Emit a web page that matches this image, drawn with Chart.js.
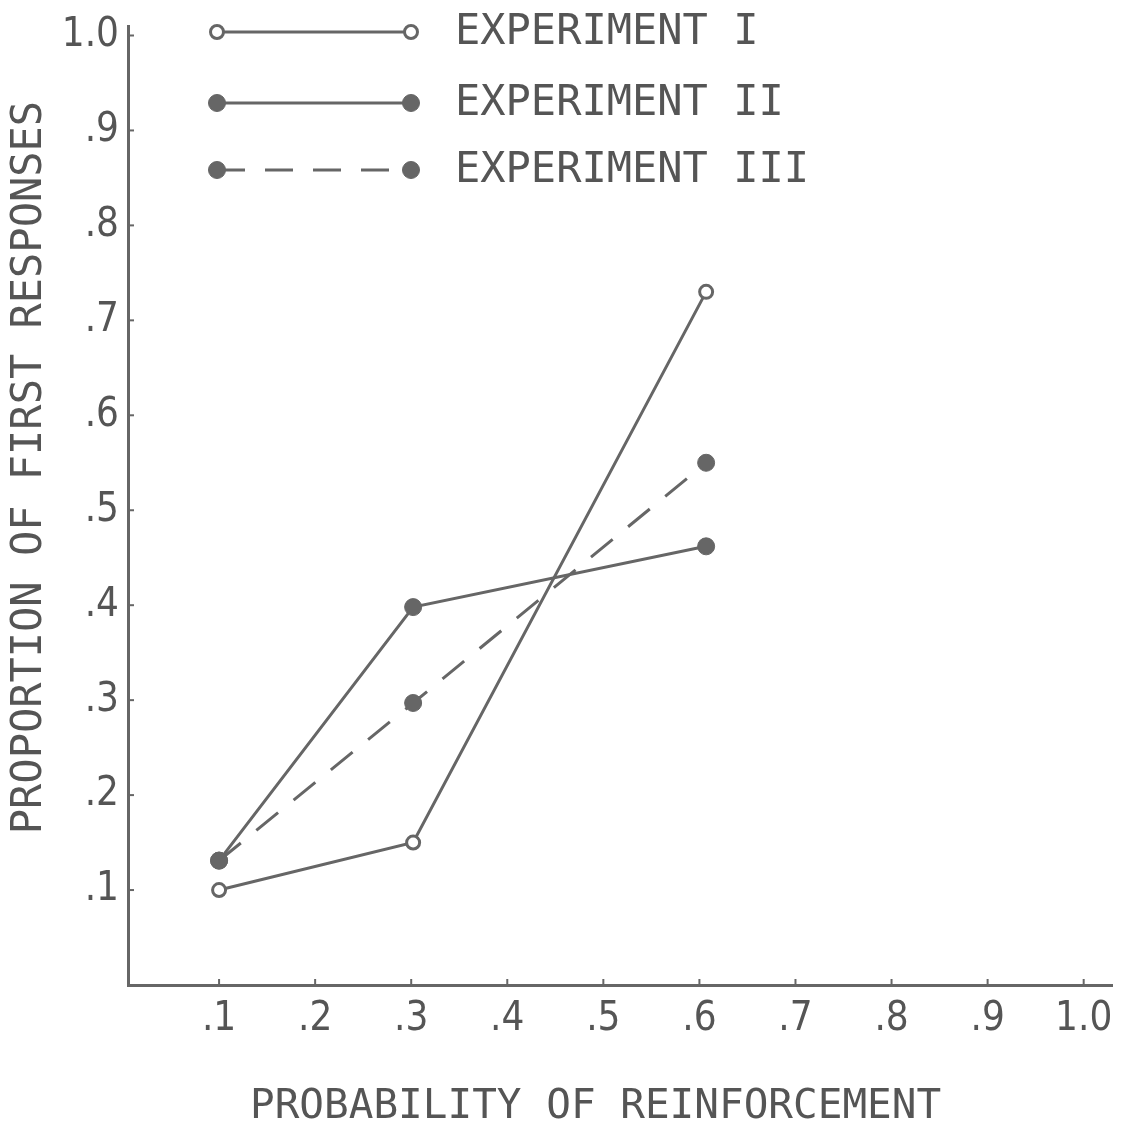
<!DOCTYPE html>
<html><head><meta charset="utf-8">
<script src="https://cdn.jsdelivr.net/npm/chart.js@4"></script>
<style>html,body{margin:0;padding:0;background:#fff}#wrap{width:1122px;height:1131px}</style>
</head><body><div id="wrap"><canvas id="c" width="1122" height="1131"></canvas></div>
<script>
// ---- data ----
const probability = [0.1, 0.302, 0.607];
const experiment1 = [0.100, 0.150, 0.730];
const experiment2 = [0.131, 0.398, 0.462];
const experiment3 = [0.131, 0.297, 0.550];
const seriesNames = ['EXPERIMENT I', 'EXPERIMENT II', 'EXPERIMENT III'];
const xTickValues = [0.1, 0.2, 0.3, 0.4, 0.5, 0.6, 0.7, 0.8, 0.9, 1.0];
const xTickLabels = ['.1', '.2', '.3', '.4', '.5', '.6', '.7', '.8', '.9', '1.0'];
const yTickValues = [0.1, 0.2, 0.3, 0.4, 0.5, 0.6, 0.7, 0.8, 0.9, 1.0];
const yTickLabels = ['.1', '.2', '.3', '.4', '.5', '.6', '.7', '.8', '.9', '1.0'];
const xTitle = 'PROBABILITY OF REINFORCEMENT';
const yTitle = 'PROPORTION OF FIRST RESPONSES';

// ---- style ----
const INK = '#555555';
const LINE = '#666666';
const monoFont = '"DejaVu Sans Mono", monospace';
const narrowFont = '"DejaVu Sans Condensed", "Liberation Sans Narrow", "DejaVu Sans", sans-serif';

function pts(ys) { return probability.map((x, i) => ({ x: x, y: ys[i] })); }

const datasets = [
  { label: seriesNames[0], data: pts(experiment1), borderColor: LINE, borderWidth: 3,
    pointRadius: 6.5, pointBackgroundColor: '#fff', pointBorderColor: LINE, pointBorderWidth: 3, borderDash: [] },
  { label: seriesNames[1], data: pts(experiment2), borderColor: LINE, borderWidth: 3,
    pointRadius: 8.5, pointBackgroundColor: LINE, pointBorderColor: LINE, pointBorderWidth: 1, borderDash: [] },
  { label: seriesNames[2], data: pts(experiment3), borderColor: LINE, borderWidth: 3,
    pointRadius: 8.5, pointBackgroundColor: LINE, pointBorderColor: LINE, pointBorderWidth: 1, borderDash: [28, 20] }
];

const innerTicks = {
  id: 'innerTicks',
  afterDraw(chart) {
    const { ctx, scales: { x, y } } = chart;
    ctx.save();
    ctx.strokeStyle = LINE; ctx.lineWidth = 2;
    xTickValues.forEach(v => {
      const px = x.getPixelForValue(v);
      ctx.beginPath(); ctx.moveTo(px, y.bottom); ctx.lineTo(px, y.bottom - 6); ctx.stroke();
    });
    yTickValues.forEach(v => {
      const py = y.getPixelForValue(v);
      ctx.beginPath(); ctx.moveTo(x.left, py); ctx.lineTo(x.left + 6, py); ctx.stroke();
    });
    ctx.restore();
  }
};

const customLegend = {
  id: 'customLegend',
  afterDraw(chart) {
    const { ctx } = chart;
    const rowsY = [32, 103, 170];
    const x1 = 217, x2 = 411, tx = 455;
    ctx.save();
    chart.data.datasets.forEach((ds, i) => {
      const yy = rowsY[i];
      ctx.strokeStyle = ds.borderColor; ctx.lineWidth = ds.borderWidth;
      ctx.setLineDash(ds.borderDash || []);
      ctx.beginPath(); ctx.moveTo(x1, yy); ctx.lineTo(x2, yy); ctx.stroke();
      ctx.setLineDash([]);
      [x1, x2].forEach(px => {
        ctx.beginPath(); ctx.arc(px, yy, ds.pointRadius, 0, Math.PI * 2);
        ctx.fillStyle = ds.pointBackgroundColor; ctx.fill();
        ctx.lineWidth = ds.pointBorderWidth; ctx.strokeStyle = ds.pointBorderColor; ctx.stroke();
      });
      ctx.fillStyle = INK;
      ctx.font = '42px ' + monoFont;
      ctx.textBaseline = 'middle'; ctx.textAlign = 'left';
      ctx.fillText(ds.label, tx, yy + 1);
    });
    ctx.restore();
  }
};

new Chart(document.getElementById('c'), {
  type: 'line',
  data: { datasets: datasets },
  plugins: [innerTicks, customLegend],
  options: {
    responsive: false,
    animation: false,
    devicePixelRatio: 1,
    layout: { padding: { top: 26, right: 0, left: 0, bottom: 0 } },
    plugins: { legend: { display: false }, tooltip: { enabled: false } },
    scales: {
      x: {
        type: 'linear', min: 0.0052, max: 1.030,
        afterBuildTicks: s => { s.ticks = xTickValues.map(v => ({ value: v })); },
        afterFit: s => { s.height = 146; s.paddingLeft = 0; s.paddingRight = 0; },
        grid: { display: true, drawOnChartArea: false, drawTicks: false },
        border: { display: true, color: LINE, width: 3 },
        ticks: { color: INK, padding: 15, maxRotation: 0, autoSkip: false,
          font: { family: narrowFont, size: 40, lineHeight: 1 },
          callback: (v) => { const i = xTickValues.findIndex(t => Math.abs(t - v) < 1e-6); return i >= 0 ? xTickLabels[i] : ''; } },
        title: { display: true, text: xTitle + '  ', color: INK, padding: { top: 0, bottom: 3 },
          font: { family: monoFont, size: 41, lineHeight: 1 } }
      },
      y: {
        type: 'linear', min: 0, max: 1.01,
        afterBuildTicks: s => { s.ticks = yTickValues.map(v => ({ value: v })); },
        afterFit: s => { s.width = 128; s.paddingTop = 0; s.paddingBottom = 0; },
        grid: { display: true, drawOnChartArea: false, drawTicks: false },
        border: { display: true, color: LINE, width: 3 },
        ticks: { color: INK, padding: 9, autoSkip: false,
          font: { family: narrowFont, size: 40, lineHeight: 1 },
          callback: (v) => { const i = yTickValues.findIndex(t => Math.abs(t - v) < 1e-6); return i >= 0 ? yTickLabels[i] : ''; } },
        title: { display: true, text: '   ' + yTitle, color: INK, padding: { top: 9, bottom: 0 },
          font: { family: monoFont, size: 42, lineHeight: 1 } }
      }
    }
  }
});
</script></body></html>
